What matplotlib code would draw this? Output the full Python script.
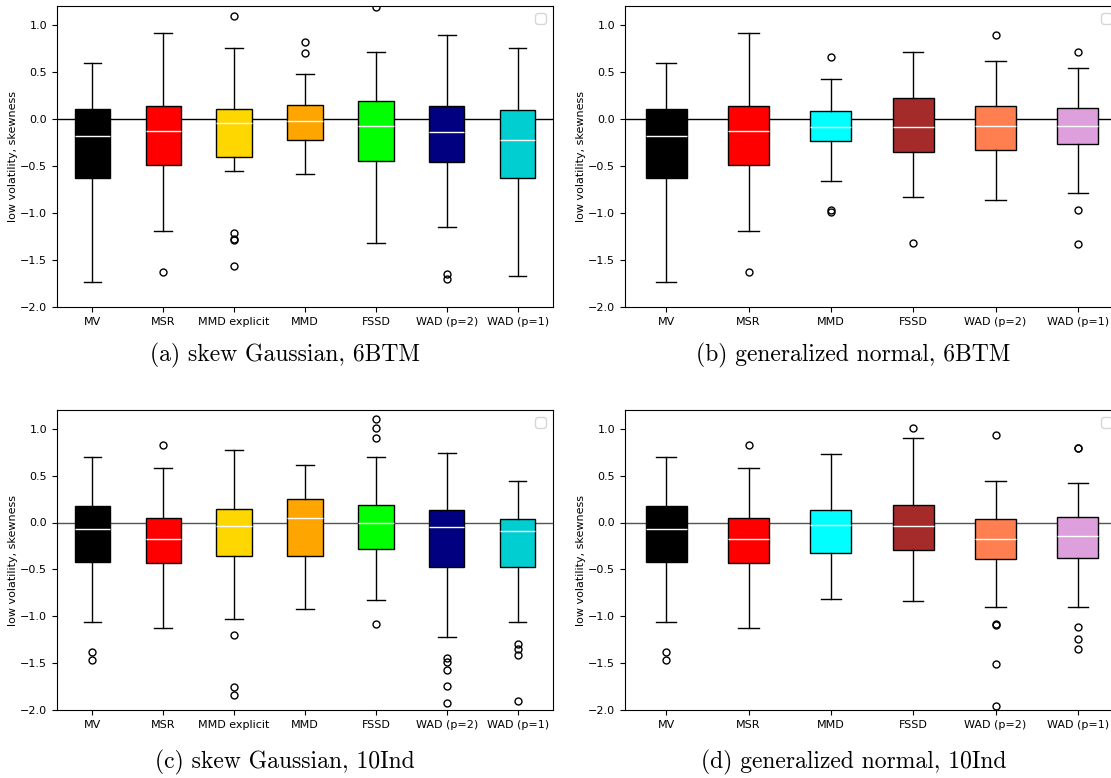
import matplotlib
matplotlib.use("Agg")
import matplotlib.pyplot as plt

# box stats: (whislo, q1, med, q3, whishi), fliers
labels_a = ["MV", "MSR", "MMD explicit", "MMD", "FSSD", "WAD (p=2)", "WAD (p=1)"]
labels_b = ["MV", "MSR", "MMD", "FSSD", "WAD (p=2)", "WAD (p=1)"]
colors_a = ["black", "red", "gold", "orange", "lime", "navy", "darkturquoise"]
colors_b = ["black", "red", "cyan", "brown", "coral", "plum"]

stats_a = [(-1.733, -0.633, -0.185, 0.107, 0.594),
           (-1.196, -0.495, -0.125, 0.135, 0.911),
           (-0.552, -0.406, -0.046, 0.107, 0.754),
           (-0.584, -0.221, -0.018, 0.149, 0.480),
           (-1.320, -0.452, -0.078, 0.192, 0.715),
           (-1.146, -0.463, -0.142, 0.135, 0.897),
           (-1.673, -0.630, -0.228, 0.096, 0.758)]
fliers_a = [[], [-1.63], [1.093, -1.21, -1.28, -1.29, -1.562], [0.819, 0.705],
            [1.185], [-1.651, -1.698], []]

stats_b = [(-1.733, -0.633, -0.185, 0.107, 0.594),
           (-1.196, -0.495, -0.125, 0.135, 0.911),
           (-0.658, -0.235, -0.085, 0.089, 0.423),
           (-0.833, -0.352, -0.085, 0.217, 0.715),
           (-0.858, -0.331, -0.078, 0.135, 0.619),
           (-0.790, -0.270, -0.078, 0.114, 0.541)]
fliers_b = [[], [-1.63], [0.655, -0.972, -0.986], [-1.32], [0.897],
            [0.712, -0.964, -1.331]]

stats_c = [(-1.064, -0.416, -0.068, 0.174, 0.698),
           (-1.121, -0.427, -0.171, 0.053, 0.584),
           (-1.028, -0.356, -0.036, 0.142, 0.776),
           (-0.922, -0.356, 0.046, 0.249, 0.609),
           (-0.829, -0.278, -0.004, 0.189, 0.694),
           (-1.224, -0.473, -0.050, 0.135, 0.737),
           (-1.064, -0.470, -0.093, 0.036, 0.438)]
fliers_c = [[-1.377, -1.463], [0.829], [-1.203, -1.758, -1.836], [],
            [1.103, 1.011, 0.897, -1.082],
            [-1.448, -1.491, -1.573, -1.744, -1.922],
            [-1.292, -1.349, -1.413, -1.907]]

stats_d = [(-1.064, -0.416, -0.068, 0.174, 0.698),
           (-1.121, -0.427, -0.171, 0.053, 0.584),
           (-0.819, -0.320, -0.025, 0.135, 0.726),
           (-0.833, -0.295, -0.036, 0.185, 0.900),
           (-0.900, -0.391, -0.171, 0.036, 0.445),
           (-0.900, -0.381, -0.146, 0.064, 0.423)]
fliers_d = [[-1.377, -1.463], [0.829], [], [1.011],
            [0.932, -1.078, -1.096, -1.509, -1.954],
            [0.794, 0.800, -1.11, -1.242, -1.352]]

captions = ["(a) skew Gaussian, 6BTM", "(b) generalized normal, 6BTM",
            "(c) skew Gaussian, 10Ind", "(d) generalized normal, 10Ind"]

W, H = 1111, 778
fig = plt.figure(figsize=(W / 100, H / 100), dpi=100)


def px_axes(left, top, right, bottom):
    return fig.add_axes([left / W, 1 - bottom / H, (right - left) / W, (bottom - top) / H])


def panel(ax, st, fl, labels, colors, zero_color):
    bx = []
    for (lo, q1, med, q3, hi), f, lab in zip(st, fl, labels):
        bx.append(dict(whislo=lo, q1=q1, med=med, q3=q3, whishi=hi, fliers=f, label=lab))
    ax.axhline(0, color=zero_color, lw=1, zorder=0)
    art = ax.bxp(bx, widths=0.5, patch_artist=True,
                 medianprops=dict(color="white", lw=1),
                 whiskerprops=dict(color="black", lw=1),
                 capprops=dict(color="black", lw=1),
                 flierprops=dict(marker="o", markerfacecolor="none",
                                 markeredgecolor="black", markersize=5))
    for patch, c in zip(art["boxes"], colors):
        patch.set_facecolor(c)
        patch.set_edgecolor("black")
    ax.set_xlim(0.5, len(st) + 0.5)
    ax.set_ylim(-2.0, 1.2)
    ax.set_yticks([-2.0, -1.5, -1.0, -0.5, 0.0, 0.5, 1.0])
    ax.tick_params(labelsize=8)
    ax.set_ylabel("low volatility, skewness", fontsize=8)
    ax.yaxis.set_label_coords(-0.079, 0.5)
    ax.legend(handles=[], loc="upper right")


ax_a = px_axes(57, 6, 553, 307)
ax_b = px_axes(625, 6, 1119, 307)
ax_c = px_axes(57, 410, 553, 710)
ax_d = px_axes(625, 410, 1119, 710)

panel(ax_a, stats_a, fliers_a, labels_a, colors_a, "black")
panel(ax_b, stats_b, fliers_b, labels_b, colors_b, "black")
panel(ax_c, stats_c, fliers_c, labels_a, colors_a, "#555555")
panel(ax_d, stats_d, fliers_d, labels_b, colors_b, "#555555")

cap_pos = [(285, 355), (853, 355), (285, 762), (854, 762)]
for (x, y), t in zip(cap_pos, captions):
    fig.text(x / W, 1 - y / H, t, ha="center", va="center",
             fontsize=17, family="cmr10")

fig.savefig("out.png", dpi=100)
